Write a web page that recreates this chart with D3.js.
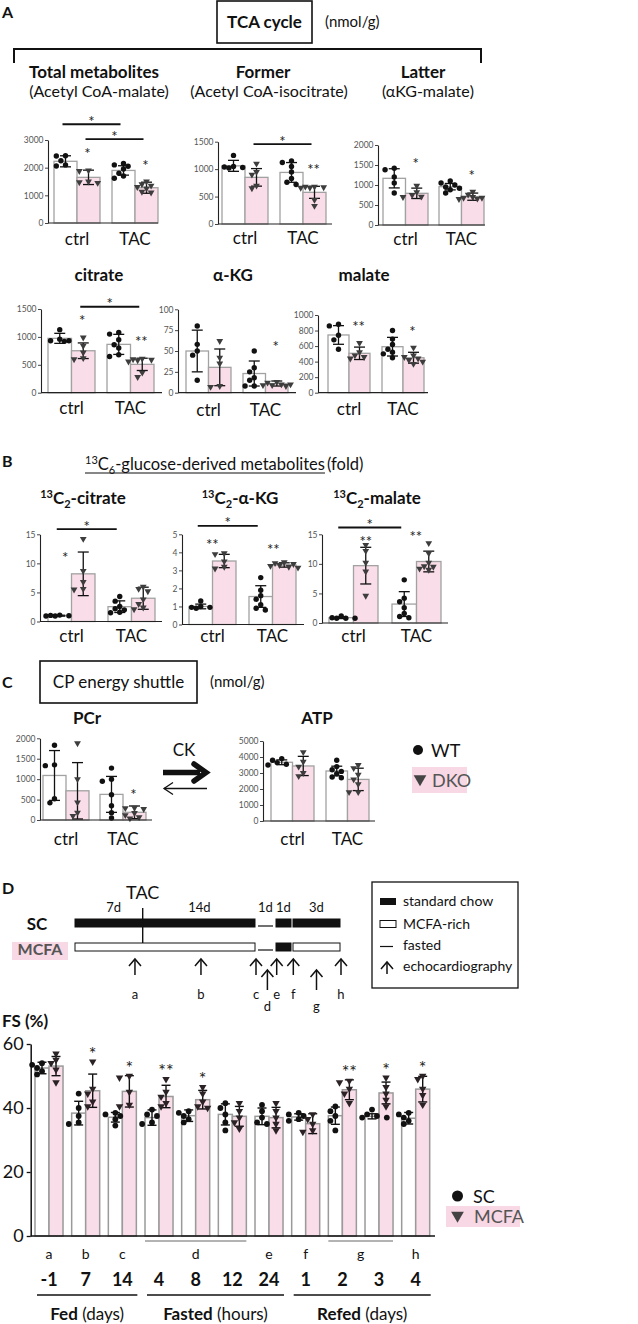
<!DOCTYPE html>
<html>
<head>
<meta charset="utf-8">
<script src="https://cdn.jsdelivr.net/npm/d3@7"></script>
<style>
  body { margin: 0; background: #fff; }
  svg { display: block; }
  text { font-family: Lato, "Open Sans", sans-serif; fill: #111; }
</style>
</head>
<body>
<div id="fig"></div>
<script>
// ---- data ----
const groups = ["ctrl", "TAC"];
const genos = ["WT", "DKO"];   // bar order inside each group

// A: TCA cycle (nmol/g)
const totalMeans = [2230, 1650, 1900, 1275];
const totalSds = [200, 260, 170, 200];
const totalPts = [[2430, 2420, 2250, 2100, 2060], [1900, 1880, 1500, 1450, 1470],
  [2150, 2100, 2050, 1950, 1800, 1700, 1620], [1500, 1400, 1350, 1300, 1250, 1130, 1100]];
const totalStars = [[1, "*"], [3, "*"]];
const totalBrackets = [[0, 2, 3570], [1, 3, 3030]];

const formerMeans = [1060, 850, 940, 577];
const formerSds = [100, 160, 180, 110];
const formerPts = [[1250, 1050, 1030, 1020, 1040], [1100, 950, 900, 700, 650],
  [1150, 1120, 1050, 950, 830, 760, 720], [680, 680, 670, 660, 660, 440, 330]];
const formerStars = [[3, "**"]];
const formerBrackets = [[1, 3, 1456]];

const latterMeans = [1167, 792, 958, 708];
const latterSds = [240, 130, 80, 90];
const latterPts = [[1420, 1380, 1200, 1050, 800], [980, 820, 750, 700, 710],
  [1100, 1050, 1000, 950, 920, 880, 800], [830, 760, 700, 680, 660, 650, 680]];
const latterStars = [[1, "*"], [3, "*"]];

const citrateMeans = [974, 752, 866, 508];
const citrateSds = [90, 140, 180, 110];
const citratePts = [[1130, 960, 930, 920, 930], [990, 840, 720, 620, 600],
  [1080, 1050, 950, 860, 800, 680, 650], [610, 600, 590, 580, 560, 360, 280]];
const citrateStars = [[1, "*"], [3, "**"]];
const citrateBrackets = [[1, 3, 1540]];

const akgMeans = [50, 30.4, 23, 11];
const akgSds = [25, 22, 15, 3];
const akgPts = [[80, 58, 50, 45, 15], [62, 42, 35, 8, 7],
  [50, 30, 25, 18, 15, 8, 8], [13, 12, 10, 10, 9, 8, 9]];
const akgStars = [[3, "*"]];

const malateMeans = [743, 507, 592, 450];
const malateSds = [120, 80, 120, 70];
const malatePts = [[880, 860, 740, 680, 560], [640, 520, 480, 460, 440],
  [800, 690, 620, 560, 520, 500, 450], [580, 480, 460, 440, 420, 400, 370]];
const malateStars = [[1, "**"], [3, "*"]];

// B: 13C6-glucose-derived metabolites (fold)
const c13citMeans = [1.0, 8.2, 2.55, 4.0];
const c13citSds = [0.08, 3.75, 1.0, 1.9];
const c13citPts = [[1.1, 1.05, 1.0, 0.95, 0.95], [14.2, 8.7, 6.8, 5.5, 5.6],
  [4.3, 3.5, 2.6, 2.2, 2.0, 1.6, 1.5], [6.0, 5.6, 5.2, 3.8, 3.0, 2.4, 2.1]];
const c13citStars = [[1, "*"]];
const c13citBrackets = [[0, 2, 15.9]];

const c13akgMeans = [1.0, 3.52, 1.55, 3.3];
const c13akgSds = [0.13, 0.37, 0.6, 0.12];
const c13akgPts = [[1.3, 1.0, 0.95, 0.9, 0.95], [3.95, 3.9, 3.5, 3.2, 3.1],
  [2.6, 1.9, 1.6, 1.4, 1.1, 0.8, 0.9], [3.45, 3.4, 3.35, 3.3, 3.25, 3.2, 3.15]];
const c13akgStars = [[1, "**"], [3, "**"]];
const c13akgBrackets = [[0, 2, 5.47]];

const c13malMeans = [0.9, 9.7, 3.2, 10.4];
const c13malSds = [0.15, 3.1, 2.1, 1.75];
const c13malPts = [[1.2, 0.9, 0.8, 0.8, 0.8], [13.2, 12.2, 10.2, 8.7, 4.6],
  [7.3, 4.2, 3.6, 2.6, 1.6, 1.1, 0.9], [13.5, 11.8, 10.2, 9.6, 9.2, 9.0, 9.5]];
const c13malStars = [[1, "**"], [3, "**"]];
const c13malBrackets = [[0, 2, 16.15]];

// C: CP energy shuttle (nmol/g)
const pcrMeans = [1090, 715, 627, 188];
const pcrSds = [610, 690, 440, 155];
const pcrPts = [[1830, 1350, 1330, 520, 420], [1880, 1000, 430, 180, 100],
  [1270, 1000, 950, 620, 350, 180, 50], [300, 290, 270, 170, 120, 70, 40]];
const pcrStars = [[3, "*"]];

const atpMeans = [3670, 3440, 3125, 2600];
const atpSds = [150, 600, 300, 700];
const atpPts = [[3900, 3800, 3650, 3550, 3500], [4300, 3700, 3400, 3000, 2800],
  [3800, 3400, 3200, 3100, 2950, 2700, 2750], [3500, 3300, 2900, 2600, 2300, 1800, 1800]];

// D: timeline (days) and FS (%)
const dietSC = [[0, 21, "chow"], [21, 22, "fast"], [22, 23, "chow"], [23, 26, "chow"]];
const dietMCFA = [[0, 21, "mcfa"], [21, 22, "fast"], [22, 23, "chow"], [23, 26, "mcfa"]];
const tacDay = 7;
const spanLabels = [[4, "7d"], [14, "14d"], [21.5, "1d"], [22.5, "1d"], [24.5, "3d"]];
const echoDays = [["a", 6.2], ["b", 14.2], ["c", 21], ["d", 21.6], ["e", 22.1], ["f", 23.08], ["g", 24.5], ["h", 26]];
const echoLow = ["d", "g"];

const fsNums = ["-1", "7", "14", "4", "8", "12", "24", "1", "2", "3", "4"];
const fsLetters = [["a", [0]], ["b", [1]], ["c", [2]], ["d", [3, 4, 5]], ["e", [6]], ["f", [7]], ["g", [8, 9]], ["h", [10]]];
const fsPhases = [["Fed", " (days)", 0, 2], ["Fasted", " (hours)", 3, 6], ["Refed", " (days)", 7, 10]];
const fsScMeans = [52.5, 38.4, 37.1, 37.0, 37.6, 38.0, 37.4, 37.2, 37.6, 37.4, 36.8];
const fsScSds = [1.8, 3.7, 1.5, 2.4, 1.8, 3.3, 2.6, 1.0, 2.7, 0.8, 1.8];
const fsMcMeans = [53.1, 45.4, 45.2, 43.6, 42.6, 37.4, 37.0, 35.1, 45.7, 44.7, 45.9];
const fsMcSds = [3.0, 5.2, 4.9, 3.5, 2.9, 3.1, 3.2, 3.1, 3.1, 3.4, 4.0];
const fsScPts = [[54, 53.5, 52.5, 51.5, 50.5], [44.5, 40, 37.5, 35.5, 35], [38.5, 38, 37.5, 36.5, 34.5],
  [39.5, 38, 37.5, 35.5, 35], [39, 38.5, 37.5, 36.5, 35.5], [41.5, 40, 38, 35.5, 33],
  [41, 39, 37, 35.5, 35], [38.5, 38, 37.5, 36.5, 36], [40.5, 39, 37.5, 36, 33],
  [39.5, 38, 37.5, 37, 37], [38.5, 38, 37, 36, 35]];
const fsMcPts = [[57, 55, 54, 52, 48], [54.5, 46, 44.5, 42, 40.5], [50, 49.5, 45, 41, 40.5],
  [49, 45, 43.5, 41.5, 40.5], [46.5, 44.5, 42, 40.5, 40], [41.5, 39, 37, 35.5, 33.5],
  [41.5, 39, 37, 35, 33], [38, 36.5, 35, 33, 32.5], [48.5, 48, 46, 44.5, 41.5],
  [49.5, 46.5, 44.5, 42.5, 40.5], [50, 49, 46, 44, 41]];
const fsStars = [[1, "*"], [2, "*"], [3, "**"], [4, "*"], [8, "**"], [9, "*"], [10, "*"]];

// ---- drawing ----
const PINK = "#f9dde8", BOXPINK = "#f7d8e4", EDGE = "#a2a2a2";
const svg = d3.select("#fig").append("svg").attr("width", 638).attr("height", 1324);

function txt(x, y, s, size, opts = {}) {
  return svg.append("text").attr("x", x).attr("y", y).attr("font-size", size)
    .attr("text-anchor", opts.anchor || "middle").attr("font-weight", opts.bold ? "bold" : null)
    .style("fill", opts.fill || "#111").text(s);
}

// beeswarm-ish placement so dots don't sit on top of each other
function swarm(vals, cx, y, r) {
  const placed = [];
  vals.slice().sort((a, b) => b - a).forEach(v => {
    const py = y(v);
    let best = null, bestD = -1;
    for (const k of [0, -1, 1, -2, 2, -3, 3]) {
      const px = cx + k * r * 1.7;
      const dmin = placed.length ? d3.min(placed, p => Math.hypot(p.x - px, p.y - py)) : 99;
      if (dmin >= r * 1.9) { best = px; break; }
      if (dmin > bestD) { bestD = dmin; best = px; }
    }
    placed.push({ x: best, y: py });
  });
  return placed;
}

const tri = s => d3.symbol().type(d3.symbolTriangle).size(s)();

function barChart(c) {
  const g = svg.append("g");
  const y = d3.scaleLinear().domain([0, c.max]).range([c.y0, c.yTop]);
  const xg = d3.scaleBand().domain(groups).range([c.b0, c.b0 + 4 * c.bw + c.gg])
    .paddingInner(c.gg / (2 * c.bw + c.gg));
  const xs = d3.scaleBand().domain(genos).range([0, xg.bandwidth()]);
  const bars = [];
  groups.forEach((gr, gi) => genos.forEach((ge, si) => {
    const i = gi * 2 + si;
    const x = xg(gr) + xs(ge);
    bars.push({ gr, ge, mean: c.means[i], sd: c.sds[i], pts: c.pts[i], x, w: xs.bandwidth(), cx: x + xs.bandwidth() / 2 });
  }));

  g.selectAll("rect").data(bars).join("rect")
    .attr("x", d => d.x).attr("y", d => y(d.mean))
    .attr("width", d => d.w).attr("height", d => c.y0 - y(d.mean))
    .attr("fill", d => d.ge === "WT" ? "#fff" : PINK)
    .attr("stroke", EDGE).attr("stroke-width", 1.3);

  // error bars
  const eb = g.selectAll("g.eb").data(bars).join("g").attr("class", "eb")
    .attr("stroke", "#111").attr("stroke-width", 1.3);
  eb.append("line").attr("x1", d => d.cx).attr("x2", d => d.cx)
    .attr("y1", d => y(Math.max(0, d.mean - d.sd))).attr("y2", d => y(d.mean + d.sd));
  eb.append("line").attr("x1", d => d.cx - 5.5).attr("x2", d => d.cx + 5.5)
    .attr("y1", d => y(d.mean + d.sd)).attr("y2", d => y(d.mean + d.sd));
  eb.filter(d => d.mean - d.sd > 0).append("line").attr("x1", d => d.cx - 5.5).attr("x2", d => d.cx + 5.5)
    .attr("y1", d => y(d.mean - d.sd)).attr("y2", d => y(d.mean - d.sd));

  // points
  bars.forEach(b => {
    const pos = swarm(b.pts, b.cx, y, 2.7);
    if (b.ge === "WT") {
      g.append("g").selectAll("circle").data(pos).join("circle")
        .attr("cx", p => p.x).attr("cy", p => p.y).attr("r", 2.7).attr("fill", "#111");
    } else {
      g.append("g").selectAll("path").data(pos).join("path")
        .attr("d", tri(20)).attr("transform", p => `translate(${p.x},${p.y}) rotate(180)`).attr("fill", "#3d3d3d");
    }
  });

  // axes
  g.append("g").attr("transform", `translate(${c.ax},0)`)
    .call(d3.axisLeft(y).tickValues(d3.range(0, c.max + c.step / 2, c.step)).tickFormat(d3.format("d"))
      .tickSize(3).tickSizeOuter(0).tickPadding(1.5))
    .call(a => {
      a.select(".domain").attr("stroke", "#222").attr("stroke-width", 1.1);
      a.selectAll(".tick line").attr("stroke", "#444");
      a.selectAll(".tick text").attr("font-size", 8.5).style("fill", "#555")
        .attr("font-family", "'Liberation Sans', Arial, sans-serif");
    });
  g.append("line").attr("x1", c.ax).attr("x2", c.xEnd).attr("y1", c.y0).attr("y2", c.y0)
    .attr("stroke", "#222").attr("stroke-width", 1.2);

  groups.forEach(gr => {
    g.append("text").attr("x", xg(gr) + xg.bandwidth() / 2).attr("y", c.labY)
      .attr("text-anchor", "middle").attr("font-size", 17).text(gr);
  });

  // significance marks
  (c.stars || []).forEach(([i, s]) => {
    const b = bars[i];
    const top = y(Math.max(b.mean + b.sd, d3.max(b.pts)));
    const sh = (c.starShift && c.starShift[i]) || [0, 0];
    g.append("text").attr("x", b.cx - 1 + sh[0]).attr("y", top - 11 + sh[1]).attr("text-anchor", "middle")
      .attr("font-size", 15).style("fill", "#222").text(s);
  });
  (c.brackets || []).forEach(([i, j, lvl]) => {
    const x1 = bars[i].cx - 3, x2 = bars[j].cx - 3;
    g.append("line").attr("x1", x1).attr("x2", x2).attr("y1", y(lvl)).attr("y2", y(lvl))
      .attr("stroke", "#111").attr("stroke-width", 1.8);
    g.append("text").attr("x", (x1 + x2) / 2).attr("y", y(lvl) + 2.5).attr("text-anchor", "middle")
      .attr("font-size", 15).style("fill", "#222").text("*");
  });
}

// ---- panel A ----
txt(2, 18, "A", 16, { anchor: "start", bold: true }).attr("font-family", "'Liberation Sans', Arial, sans-serif");
svg.append("rect").attr("x", 217).attr("y", 1).attr("width", 95).attr("height", 42)
  .attr("fill", "none").attr("stroke", "#111").attr("stroke-width", 1.6);
txt(264.5, 28, "TCA cycle", 17, { bold: true });
txt(325, 27, "(nmol/g)", 15, { anchor: "start" });
svg.append("path").attr("d", "M14,63V49H481V63").attr("fill", "none").attr("stroke", "#111").attr("stroke-width", 2);

txt(94, 78, "Total metabolites", 17, { bold: true });
txt(99, 97, "(Acetyl CoA-malate)", 16);
txt(263, 78, "Former", 17, { bold: true });
txt(269, 97, "(Acetyl CoA-isocitrate)", 16);
txt(423, 78, "Latter", 17, { bold: true });
txt(428, 97, "(αKG-malate)", 16);
txt(99, 281, "citrate", 17, { bold: true });
txt(233, 281, "α-KG", 17, { bold: true });
txt(364, 281, "malate", 17, { bold: true });

barChart({ means: totalMeans, sds: totalSds, pts: totalPts, stars: totalStars, brackets: totalBrackets,
  max: 3000, step: 1000, ax: 48, y0: 223, yTop: 140, xEnd: 158, b0: 54, bw: 23, gg: 12, labY: 245 });
barChart({ means: formerMeans, sds: formerSds, pts: formerPts, stars: formerStars, brackets: formerBrackets,
  max: 1500, step: 500, ax: 218, y0: 224, yTop: 141.7, xEnd: 332, b0: 222, bw: 23, gg: 12, labY: 244 });
barChart({ means: latterMeans, sds: latterSds, pts: latterPts, stars: latterStars,
  starShift: { 1: [0, -6] },
  max: 2000, step: 500, ax: 378, y0: 225, yTop: 145, xEnd: 485, b0: 383, bw: 22.5, gg: 11, labY: 245 });
barChart({ means: citrateMeans, sds: citrateSds, pts: citratePts, stars: citrateStars, brackets: citrateBrackets,
  max: 1500, step: 500, ax: 41, y0: 392.7, yTop: 309, xEnd: 162, b0: 48, bw: 23.5, gg: 12, labY: 414 });
barChart({ means: akgMeans, sds: akgSds, pts: akgPts, stars: akgStars,
  starShift: { 3: [0, -18] },
  max: 100, step: 25, ax: 178, y0: 392.7, yTop: 309.3, xEnd: 296, b0: 186, bw: 22.5, gg: 12, labY: 416 });
barChart({ means: malateMeans, sds: malateSds, pts: malatePts, stars: malateStars,
  max: 1000, step: 200, ax: 318, y0: 392.7, yTop: 315, xEnd: 428, b0: 328, bw: 21, gg: 12, labY: 415 });

// ---- panel B ----
txt(2, 467, "B", 16, { anchor: "start", bold: true }).attr("font-family", "'Liberation Sans', Arial, sans-serif");
const bt = svg.append("text").attr("x", 85).attr("y", 470).attr("font-size", 16.5);
bt.append("tspan").attr("font-size", 11).attr("dy", -6).text("13");
bt.append("tspan").attr("dy", 6).text("C");
bt.append("tspan").attr("font-size", 11).attr("dy", 4).text("6");
bt.append("tspan").attr("dy", -4).text("-glucose-derived metabolites");
const btw = bt.node().getBBox();
svg.append("line").attr("x1", btw.x).attr("x2", btw.x + btw.width).attr("y1", 473).attr("y2", 473)
  .attr("stroke", "#111").attr("stroke-width", 1.2);
txt(btw.x + btw.width + 2, 470, "(fold)", 16.5, { anchor: "start" });

function isoTitle(cx, name) {
  const t = svg.append("text").attr("x", cx).attr("y", 504).attr("font-size", 17)
    .attr("font-weight", "bold").attr("text-anchor", "middle");
  t.append("tspan").attr("font-size", 11).attr("dy", -6).text("13");
  t.append("tspan").attr("dy", 6).text("C");
  t.append("tspan").attr("font-size", 11).attr("dy", 4).text("2");
  t.append("tspan").attr("dy", -4).text("-" + name);
}
isoTitle(83, "citrate");
isoTitle(240, "α-KG");
isoTitle(377, "malate");

barChart({ means: c13citMeans, sds: c13citSds, pts: c13citPts, stars: c13citStars, brackets: c13citBrackets,
  starShift: { 1: [-17, 35] },
  max: 15, step: 5, ax: 40, y0: 621.5, yTop: 534.3, xEnd: 162, b0: 48, bw: 23.5, gg: 13, labY: 642 });
barChart({ means: c13akgMeans, sds: c13akgSds, pts: c13akgPts, stars: c13akgStars, brackets: c13akgBrackets,
  starShift: { 1: [-11, 8] , 3: [-10, 4] },
  max: 5, step: 1, ax: 182, y0: 624.5, yTop: 534.3, xEnd: 304, b0: 189, bw: 23.5, gg: 13, labY: 642 });
barChart({ means: c13malMeans, sds: c13malSds, pts: c13malPts, stars: c13malStars, brackets: c13malBrackets,
  starShift: { 1: [1, 13], 3: [-12, 10] },
  max: 15, step: 5, ax: 322, y0: 623, yTop: 534.3, xEnd: 448, b0: 329, bw: 24.5, gg: 14, labY: 642 });

// ---- panel C ----
txt(2, 688, "C", 16, { anchor: "start", bold: true }).attr("font-family", "'Liberation Sans', Arial, sans-serif");
svg.append("rect").attr("x", 40).attr("y", 661).attr("width", 157).attr("height", 42)
  .attr("fill", "none").attr("stroke", "#111").attr("stroke-width", 1.6);
txt(118.5, 688, "CP energy shuttle", 17);
txt(210, 687, "(nmol/g)", 15, { anchor: "start" });
txt(87, 724, "PCr", 17, { bold: true });
txt(317, 724, "ATP", 17, { bold: true });

barChart({ means: pcrMeans, sds: pcrSds, pts: pcrPts, stars: pcrStars,
  starShift: { 3: [0, 5] },
  max: 2000, step: 500, ax: 40, y0: 820, yTop: 738.3, xEnd: 152, b0: 43, bw: 23, gg: 11, labY: 845 });
barChart({ means: atpMeans, sds: atpSds, pts: atpPts,
  max: 5000, step: 1000, ax: 263, y0: 821, yTop: 741, xEnd: 375, b0: 271, bw: 21.5, gg: 12, labY: 845 });

// CK arrows
txt(184, 756, "CK", 17);
svg.append("line").attr("x1", 163).attr("x2", 200).attr("y1", 772.5).attr("y2", 772.5)
  .attr("stroke", "#111").attr("stroke-width", 5.5);
svg.append("path").attr("d", "M194,764L206,772.5L194,781").attr("fill", "none")
  .attr("stroke", "#111").attr("stroke-width", 5.5).attr("stroke-linecap", "round");
svg.append("line").attr("x1", 164).attr("x2", 207).attr("y1", 788.5).attr("y2", 788.5)
  .attr("stroke", "#111").attr("stroke-width", 1.3);
svg.append("path").attr("d", "M173,782.5L164,788.5L173,794.5").attr("fill", "none")
  .attr("stroke", "#111").attr("stroke-width", 1.3);

// legend WT / DKO
svg.append("circle").attr("cx", 418).attr("cy", 750).attr("r", 5).attr("fill", "#111");
txt(431, 756.5, "WT", 18, { anchor: "start" });
svg.append("rect").attr("x", 412).attr("y", 767).attr("width", 55).attr("height", 26).attr("fill", BOXPINK);
svg.append("path").attr("d", tri(70)).attr("transform", "translate(420,779) rotate(180)").attr("fill", "#444");
txt(432, 786.5, "DKO", 18, { anchor: "start", fill: "#555" });

// ---- panel D: protocol ----
txt(2, 894, "D", 16, { anchor: "start", bold: true }).attr("font-family", "'Liberation Sans', Arial, sans-serif");
const tX = d3.scaleLinear().domain([0, 7, 21, 22, 23, 26]).range([75, 142.7, 256, 275, 292, 341]);

function dietRow(segs, top) {
  segs.forEach(([s, e, kind]) => {
    const x1 = tX(s) + (s > 0 ? 1 : 0), x2 = tX(e) - 1;
    if (kind === "fast") {
      svg.append("line").attr("x1", x1 + 1).attr("x2", x2 - 1).attr("y1", top + 7).attr("y2", top + 7)
        .attr("stroke", "#111").attr("stroke-width", 1.2);
    } else {
      svg.append("rect").attr("x", x1).attr("y", top).attr("width", x2 - x1).attr("height", 8)
        .attr("fill", kind === "chow" ? "#111" : "#fff").attr("stroke", "#111").attr("stroke-width", 1);
    }
  });
}
txt(tX(tacDay), 899, "TAC", 18);
spanLabels.forEach(([d, s]) => txt(tX(d), 912, s, 13));
txt(37, 930, "SC", 17, { bold: true });
svg.append("rect").attr("x", 12).attr("y", 942).attr("width", 56).attr("height", 18).attr("fill", BOXPINK);
txt(40, 955, "MCFA", 16, { bold: true, fill: "#555" });
dietRow(dietSC, 919);
dietRow(dietMCFA, 943);
svg.append("line").attr("x1", tX(tacDay)).attr("x2", tX(tacDay)).attr("y1", 908).attr("y2", 943)
  .attr("stroke", "#111").attr("stroke-width", 1.4);

function upArrow(x, top, bottom) {
  svg.append("line").attr("x1", x).attr("x2", x).attr("y1", top).attr("y2", bottom)
    .attr("stroke", "#111").attr("stroke-width", 1.5);
  svg.append("path").attr("d", `M${x - 6},${top + 7}L${x},${top}L${x + 6},${top + 7}`)
    .attr("fill", "none").attr("stroke", "#111").attr("stroke-width", 1.5);
}
echoDays.forEach(([l, d]) => {
  const low = echoLow.includes(l);
  upArrow(tX(d), low ? 970 : 959, low ? 990 : 975);
  txt(tX(d), low ? 1011 : 999, l, 13);
});

// protocol legend
svg.append("rect").attr("x", 372).attr("y", 882).attr("width", 146).attr("height", 106)
  .attr("fill", "none").attr("stroke", "#111").attr("stroke-width", 1.3);
svg.append("rect").attr("x", 380).attr("y", 898).attr("width", 16).attr("height", 7).attr("fill", "#111");
txt(403, 906, "standard chow", 14, { anchor: "start" });
svg.append("rect").attr("x", 380).attr("y", 920.5).attr("width", 16).attr("height", 7)
  .attr("fill", "#fff").attr("stroke", "#111").attr("stroke-width", 1);
txt(403, 929, "MCFA-rich", 14, { anchor: "start" });
svg.append("line").attr("x1", 380).attr("x2", 393).attr("y1", 946.5).attr("y2", 946.5)
  .attr("stroke", "#111").attr("stroke-width", 1.2);
txt(403, 950, "fasted", 14, { anchor: "start" });
upArrow(387, 962, 974);
txt(403, 971, "echocardiography", 14, { anchor: "start" });

// ---- panel D: FS (%) ----
txt(2, 1027, "FS (%)", 17, { anchor: "start", bold: true });
const fsY = d3.scaleLinear().domain([0, 60]).range([1236, 1044]);
const fsX = d3.scaleBand().domain(d3.range(fsNums.length)).range([35, 429.7]).paddingInner(0.236);
const fsS = d3.scaleBand().domain(["SC", "MCFA"]).range([0, fsX.bandwidth()]);

const fsBars = [];
fsNums.forEach((n, i) => {
  [["SC", fsScMeans, fsScSds, fsScPts], ["MCFA", fsMcMeans, fsMcSds, fsMcPts]].forEach(([k, m, s, p]) => {
    const x = fsX(i) + fsS(k);
    fsBars.push({ i, k, mean: m[i], sd: s[i], pts: p[i], x, w: fsS.bandwidth(), cx: x + fsS.bandwidth() / 2 });
  });
});
const fg = svg.append("g");
fg.selectAll("rect").data(fsBars).join("rect")
  .attr("x", d => d.x).attr("y", d => fsY(d.mean)).attr("width", d => d.w).attr("height", d => 1236 - fsY(d.mean))
  .attr("fill", d => d.k === "SC" ? "#fff" : PINK).attr("stroke", "#9a9a9a").attr("stroke-width", 1.5);
const feb = fg.selectAll("g.eb").data(fsBars).join("g").attr("class", "eb")
  .attr("stroke", "#111").attr("stroke-width", 1.4);
feb.append("line").attr("x1", d => d.cx).attr("x2", d => d.cx)
  .attr("y1", d => fsY(d.mean - d.sd)).attr("y2", d => fsY(d.mean + d.sd));
feb.append("line").attr("x1", d => d.cx - 4.5).attr("x2", d => d.cx + 4.5)
  .attr("y1", d => fsY(d.mean + d.sd)).attr("y2", d => fsY(d.mean + d.sd));
feb.append("line").attr("x1", d => d.cx - 4.5).attr("x2", d => d.cx + 4.5)
  .attr("y1", d => fsY(d.mean - d.sd)).attr("y2", d => fsY(d.mean - d.sd));
fsBars.forEach(b => {
  const pos = swarm(b.pts, b.cx, fsY, 2.9);
  if (b.k === "SC") {
    fg.append("g").selectAll("circle").data(pos).join("circle")
      .attr("cx", p => p.x).attr("cy", p => p.y).attr("r", 2.9).attr("fill", "#111");
  } else {
    fg.append("g").selectAll("path").data(pos).join("path")
      .attr("d", tri(24)).attr("transform", p => `translate(${p.x},${p.y}) rotate(180)`).attr("fill", "#2b2226");
  }
});
fsStars.forEach(([i, s]) => {
  const b = fsBars[i * 2 + 1];
  const top = fsY(Math.max(b.mean + b.sd, d3.max(b.pts)));
  txt(b.cx, top - 2, s, 18, { fill: "#222" });
});

fg.append("g").attr("transform", "translate(30.7,0)")
  .call(d3.axisLeft(fsY).tickValues([0, 20, 40, 60]).tickSize(4).tickSizeOuter(0).tickPadding(3))
  .call(a => {
    a.select(".domain").attr("stroke", "#111").attr("stroke-width", 1.5);
    a.selectAll(".tick line").attr("stroke", "#111").attr("stroke-width", 1.3);
    a.selectAll(".tick text").attr("font-size", 18).style("fill", "#111").attr("font-family", "Lato, sans-serif");
  });
fg.append("line").attr("x1", 30.7).attr("x2", 435).attr("y1", 1236).attr("y2", 1236)
  .attr("stroke", "#111").attr("stroke-width", 1.5);

const gc = i => fsX(i) + fsX.bandwidth() / 2;
fsLetters.forEach(([l, idx]) => {
  const x1 = fsX(idx[0]), x2 = fsX(idx[idx.length - 1]) + fsX.bandwidth();
  txt((x1 + x2) / 2, 1259, l, 14);
  if (idx.length > 1) {
    svg.append("line").attr("x1", x1).attr("x2", x2).attr("y1", 1241).attr("y2", 1241)
      .attr("stroke", "#9a9a9a").attr("stroke-width", 1.3);
  }
});
fsNums.forEach((n, i) => txt(gc(i), 1286, n, 18, { bold: true }));
fsPhases.forEach(([b, rest, i0, i1]) => {
  const x1 = fsX(i0) + 2, x2 = fsX(i1) + fsX.bandwidth() + 1;
  svg.append("line").attr("x1", x1).attr("x2", x2).attr("y1", 1295).attr("y2", 1295)
    .attr("stroke", "#111").attr("stroke-width", 1.5);
  const t = svg.append("text").attr("x", (x1 + x2) / 2).attr("y", 1320).attr("font-size", 17).attr("text-anchor", "middle");
  t.append("tspan").attr("font-weight", "bold").text(b);
  t.append("tspan").text(rest);
});

// FS legend
svg.append("circle").attr("cx", 457.5).attr("cy", 1196).attr("r", 5.5).attr("fill", "#111");
txt(473, 1202.5, "SC", 18, { anchor: "start" });
svg.append("rect").attr("x", 446).attr("y", 1206).attr("width", 74).attr("height", 21).attr("fill", BOXPINK);
svg.append("path").attr("d", tri(70)).attr("transform", "translate(457.5,1215.5) rotate(180)").attr("fill", "#444");
txt(474, 1223, "MCFA", 18, { anchor: "start", fill: "#555" });
</script>
</body>
</html>
